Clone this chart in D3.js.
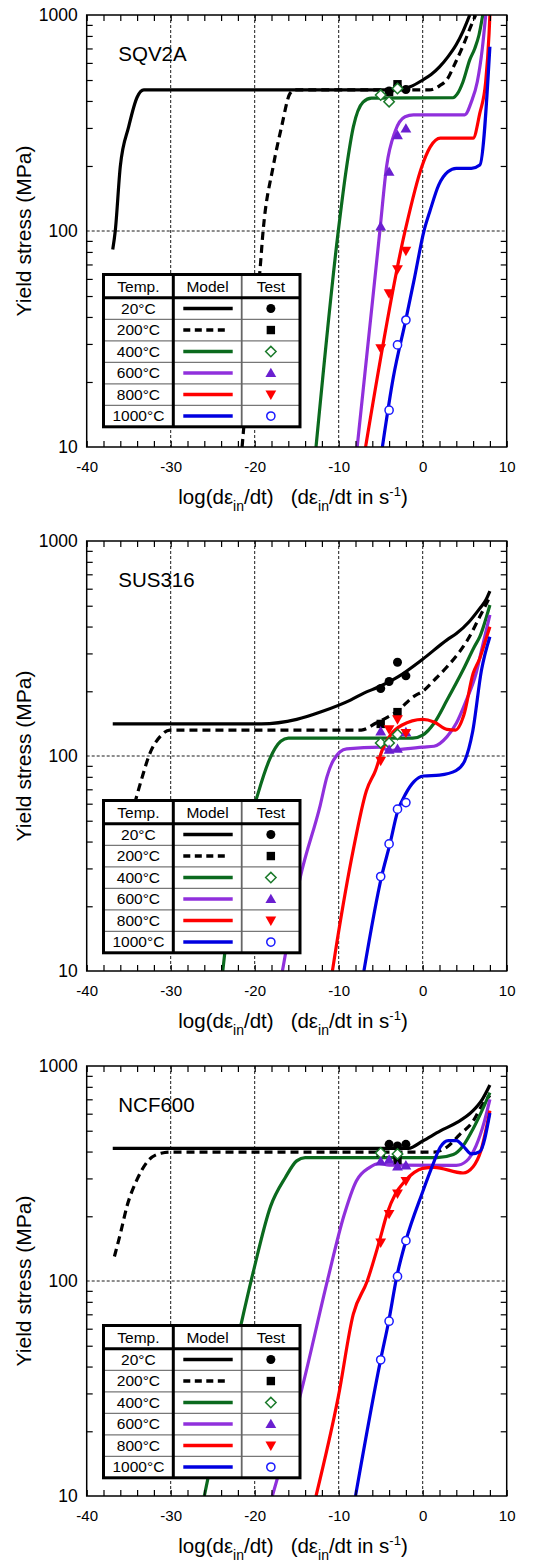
<!DOCTYPE html>
<html><head><meta charset="utf-8">
<script src="https://cdn.jsdelivr.net/npm/d3@7"></script>
<style>
body{margin:0;background:#fff;}
svg{display:block;font-family:"Liberation Sans",Arial,Helvetica,sans-serif;}
</style></head>
<body><svg id="c" width="538" height="1562"></svg>
<script>
// ---------- data ----------
const panelNames = ["SQV2A", "SUS316", "NCF600"];
const temps = ["20°C", "200°C", "400°C", "600°C", "800°C", "1000°C"];
const xTicks = [-40, -30, -20, -10, 0, 10];
const yTicks = [10, 100, 1000];

// model curves [log strain rate, stress MPa] per temperature
const SQV2A_model = [
  [[-36.9,82],[-36.6,100],[-36.0,199],[-35.0,304],[-34.0,416],[-33.2,450],[-3,450],[-1.5,465],[0,500],[1,530],[2,575],[3,640],[4,730],[4.8,840],[5.6,1000]],
  [[-21.5,10],[-20.4,30],[-19.4,64],[-19.0,100],[-17.8,199],[-16.8,304],[-15.8,433],[-15.2,450],[0.8,450],[2.0,470],[3.0,510],[3.7,580],[4.8,720],[5.8,900],[6.3,1000]],
  [[-12.7,10],[-10.05,100],[-9.05,199],[-8.25,304],[-7.1,395],[-6.1,412],[3.6,414],[4.1,430],[4.8,491],[5.6,620],[6.2,700],[6.7,808],[7.15,1000]],
  [[-7.8,10],[-5.1,100],[-4.3,199],[-3.3,288],[-2.1,338],[-1.1,345],[5.0,345],[5.8,397],[6.5,491],[7.1,701],[7.5,1000]],
  [[-6.8,10],[-2.1,100],[-0.1,199],[0.9,245],[2.1,269],[6.0,269],[6.8,351],[7.5,491],[7.9,820],[8.0,1000]],
  [[-4.8,10],[-3.5,21],[-2.0,39],[-1.0,60],[0.15,100],[0.9,125],[1.9,163],[3.0,188],[4.0,195],[5.8,195],[6.8,202],[8.0,713]]
];
const SQV2A_test = [
  [[-4,445],[-3,465],[-2,452]],
  [[-4,440],[-3,478]],
  [[-5,426],[-4,397],[-3,457]],
  [[-5,105],[-4,188],[-3,278],[-2,298]],
  [[-5,28.6],[-4,51.5],[-3,66.5],[-2,81]],
  [[-4,14.8],[-3,29.7],[-2,38.7]]
];
const SUS316_model = [
  [[-36.9,141],[-19.2,141],[-15,148],[-12,161],[-8.6,182],[-7,196],[-5.2,210],[-2.9,234],[0,282],[2.9,347],[4.05,372],[5.5,420],[6.8,486],[7.5,530],[8,585]],
  [[-34.3,60],[-33.3,82],[-32.6,100],[-31.2,124],[-30.1,132],[-7.3,132],[-5.6,142],[-3.1,161],[-1,190],[0,200],[1.35,225],[2.9,260],[4.4,306],[5.4,350],[6.8,445],[8,551]],
  [[-23.8,10],[-23.3,15],[-19.6,67],[-18.2,97],[-16.9,117],[-16,121],[-1.2,121],[0,125],[1.35,142],[2.9,182],[4.8,251],[6.15,322],[6.8,359],[8,504]],
  [[-16.7,10],[-14.6,27],[-12.2,59],[-11.4,80],[-10.6,96],[-9.05,108],[-5,110],[-4,106],[-3,107],[0,110],[1.35,111],[2.9,123],[4.0,142],[5.2,182],[6.35,242],[7.1,322],[8,453]],
  [[-10.75,10],[-10.2,13.7],[-8.25,36.9],[-6.7,69],[-5.6,86],[-4.8,107],[-3.85,125],[-2.5,139],[0,148],[1.35,144],[2.9,133],[3.9,132],[4.9,155],[6.0,242],[6.8,285],[7.5,346],[8,399]],
  [[-7.0,10],[-4.9,27.5],[-3.9,39],[-3,55],[-2,67],[-1.04,76],[0.1,80.7],[2,81.5],[3.96,85.5],[5.0,95],[5.95,130],[7.0,251],[8,359]]
];
const SUS316_test = [
  [[-5,206],[-4,222],[-3,273],[-2,236]],
  [[-5,141],[-3,160]],
  [[-5,115],[-4,115],[-3,126]],
  [[-5,130],[-4,107],[-3,108],[-2,129]],
  [[-5,95],[-4,133],[-3,148],[-2,128]],
  [[-5,27.5],[-4,39],[-3,56.6],[-2,60.7]]
];
const NCF600_model = [
  [[-36.9,414],[-1.7,414],[0,448],[2.1,499],[4.04,545],[5.96,618],[7.1,700],[8.0,816]],
  [[-36.7,130],[-35.96,168],[-35.2,223],[-34,297],[-32.7,362],[-31.15,393],[-30,398],[1.35,398],[2.9,420],[4.4,480],[5.96,551],[7.1,660],[8.0,730]],
  [[-26,10],[-21.6,63.5],[-20.2,109],[-18.1,223],[-16.35,303],[-15,362],[-14,375],[1.7,375],[3.65,388],[4.8,425],[5.96,507],[7.3,651],[8.0,752]],
  [[-17.9,10],[-14.4,31.3],[-11.3,102],[-9.4,200],[-7.9,292],[-6.35,337],[-5.2,352],[-4,346],[4.0,345],[5.2,361],[6.35,425],[7.3,545],[8.0,700]],
  [[-12.7,10],[-10.05,28.9],[-8.27,70],[-6.6,100],[-5.2,151],[-4.2,208],[-3.27,253],[-2.1,292],[-1,320],[0,334],[1.35,338],[4.8,318],[6.0,340],[6.9,400],[8.0,620]],
  [[-8,10],[-5,43.2],[-4.04,65.2],[-3.08,105],[-2,154],[0,260],[1.15,343],[2.1,420],[3.05,450],[4.04,450],[4.8,425],[5.8,390],[6.8,400],[8.0,605]]
];
const NCF600_test = [
  [[-4,432],[-3,425],[-2,432]],
  [[-5,395],[-3,365]],
  [[-5,394],[-3,390]],
  [[-5,360],[-4,367],[-3,341],[-2,345]],
  [[-5,151],[-4,205],[-3,255],[-2,292]],
  [[-5,43],[-4,65],[-3,105],[-2,154]]
];

// ---------- styling ----------
const lineColors = ["#000000", "#000000", "#0b6a1e", "#9030dc", "#ff0000", "#0000e0"];
const markColors = ["#000000", "#000000", "#1a7a2a", "#6a1fd0", "#ff0000", "#1a1aff"];
const dashes = [null, "8,5", null, null, null, null];
const models = [SQV2A_model, SUS316_model, NCF600_model];
const tests = [SQV2A_test, SUS316_test, NCF600_test];
const panelY = [[15, 447], [541, 971], [1066, 1496]];
const X0 = 86.7, X1 = 506.7;
const FONT = '"Liberation Sans",Arial,Helvetica,sans-serif';

const svg = d3.select("#c");

function markerPath(i, cx, cy) {
  const p = d3.path();
  if (i === 0 || i === 5) { // circle
    const r = i === 0 ? 4.5 : 4.1;
    p.moveTo(cx + r, cy); p.arc(cx, cy, r, 0, Math.PI * 2);
  } else if (i === 1) { // square
    const s = 4.2;
    p.rect(cx - s, cy - s, 2 * s, 2 * s);
  } else if (i === 2) { // diamond
    const s = 5.2;
    p.moveTo(cx, cy - s); p.lineTo(cx + s, cy); p.lineTo(cx, cy + s); p.lineTo(cx - s, cy); p.closePath();
  } else if (i === 3) { // up triangle
    const s = 5.4;
    p.moveTo(cx, cy - s); p.lineTo(cx + s, cy + s * 0.75); p.lineTo(cx - s, cy + s * 0.75); p.closePath();
  } else { // down triangle
    const s = 5.4;
    p.moveTo(cx, cy + s); p.lineTo(cx + s, cy - s * 0.75); p.lineTo(cx - s, cy - s * 0.75); p.closePath();
  }
  return p.toString();
}
function styleMarker(sel, i) {
  if (i === 2 || i === 5) {
    sel.attr("fill", "#fff").attr("stroke", markColors[i]).attr("stroke-width", 1.5);
  } else {
    sel.attr("fill", markColors[i]).attr("stroke", "none");
  }
}

panelNames.forEach((name, pi) => {
  const [top, bot] = panelY[pi];
  const x = d3.scaleLinear().domain([-40, 10]).range([X0, X1]);
  const y = d3.scaleLog().domain([10, 1000]).range([bot, top]);
  const g = svg.append("g");

  const clipId = "clip" + pi;
  g.append("clipPath").attr("id", clipId).append("rect")
    .attr("x", X0).attr("y", top).attr("width", X1 - X0).attr("height", bot - top);

  // grid
  [-30, -20, -10, 0].forEach(v => {
    g.append("line").attr("x1", x(v)).attr("x2", x(v)).attr("y1", top).attr("y2", bot)
      .attr("stroke", "#000").attr("stroke-width", 0.9).attr("stroke-dasharray", "3,2");
  });
  g.append("line").attr("x1", X0).attr("x2", X1).attr("y1", y(100)).attr("y2", y(100))
    .attr("stroke", "#000").attr("stroke-width", 0.9).attr("stroke-dasharray", "3,2");

  // model lines
  const line = d3.line().x(d => x(d[0])).y(d => y(d[1])).curve(d3.curveMonotoneX);
  const lg = g.append("g").attr("clip-path", `url(#${clipId})`);
  models[pi].forEach((ser, i) => {
    lg.append("path").attr("d", line(ser)).attr("fill", "none")
      .attr("stroke", lineColors[i]).attr("stroke-width", 3.2)
      .attr("stroke-linejoin", "round")
      .attr("stroke-dasharray", dashes[i]);
  });
  // test markers
  tests[pi].forEach((ser, i) => {
    ser.forEach(d => {
      const m = g.append("path").attr("d", markerPath(i, x(d[0]), y(d[1])));
      styleMarker(m, i);
    });
  });

  // frame
  g.append("rect").attr("x", X0).attr("y", top).attr("width", X1 - X0).attr("height", bot - top)
    .attr("fill", "none").attr("stroke", "#000").attr("stroke-width", 1.5);

  // ticks (inward)
  const xMinor = d3.range(-40, 10.01, 2);
  const yMinor = [];
  [10, 100].forEach(dec => { for (let k = 2; k <= 9; k++) yMinor.push(k * dec); });
  const tickStyle = s => { s.select(".domain").remove(); s.selectAll("line").attr("stroke", "#000").attr("stroke-width", 1.2); };
  g.append("g").attr("transform", `translate(0,${bot})`)
    .call(d3.axisBottom(x).tickValues(xMinor).tickSize(-6).tickFormat("")).call(tickStyle);
  g.append("g").attr("transform", `translate(0,${top})`)
    .call(d3.axisTop(x).tickValues(xMinor).tickSize(-6).tickFormat("")).call(tickStyle);
  g.append("g").attr("transform", `translate(${X0},0)`)
    .call(d3.axisLeft(y).tickValues(yMinor).tickSize(-6).tickFormat("")).call(tickStyle);
  g.append("g").attr("transform", `translate(${X1},0)`)
    .call(d3.axisRight(y).tickValues(yMinor).tickSize(-6).tickFormat("")).call(tickStyle);

  // tick labels
  const xl = g.append("g").attr("transform", `translate(0,${bot})`)
    .call(d3.axisBottom(x).tickValues(xTicks).tickSize(0).tickPadding(14.5).tickFormat(d => String(d)));
  xl.select(".domain").remove();
  xl.selectAll("text").attr("font-size", 15).attr("font-family", FONT).attr("fill", "#000");
  const yl = g.append("g").attr("transform", `translate(${X0},0)`)
    .call(d3.axisLeft(y).tickValues(yTicks).tickSize(0).tickPadding(9).tickFormat(d => String(d)));
  yl.select(".domain").remove();
  yl.selectAll("text").attr("font-size", 17.5).attr("font-family", FONT).attr("fill", "#000");

  // panel label
  g.append("text").attr("x", 118.3).attr("y", top + 45.7).attr("font-size", 20.5).text(name);

  // y title
  g.append("text").attr("transform", `translate(31,${(top + bot) / 2}) rotate(-90)`)
    .attr("text-anchor", "middle").attr("font-size", 21).text("Yield stress (MPa)");

  // x title
  const xt = g.append("text").attr("x", 293).attr("y", bot + 56.5).attr("text-anchor", "middle")
    .attr("font-size", 20.5).style("white-space", "pre");
  xt.append("tspan").text("log(dε");
  xt.append("tspan").attr("font-size", 14).attr("dy", 7).text("in");
  xt.append("tspan").attr("dy", -7).text("/dt)   (dε");
  xt.append("tspan").attr("font-size", 14).attr("dy", 7).text("in");
  xt.append("tspan").attr("dy", -7).text("/dt in s");
  xt.append("tspan").attr("font-size", 13).attr("dy", -8).text("-1");
  xt.append("tspan").attr("dy", 8).text(")");

  // legend table
  const L = 103.5, C1 = 173.3, C2 = 241.7, R = 300;
  const T = top + 259.5, H = 23.3, RH = 21.5;
  const B = T + H + RH * temps.length;
  const leg = g.append("g");
  leg.append("rect").attr("x", L).attr("y", T).attr("width", R - L).attr("height", B - T).attr("fill", "#fff");
  for (let r = 1; r < temps.length; r++) {
    const yy = T + H + RH * r;
    leg.append("line").attr("x1", L).attr("x2", R).attr("y1", yy).attr("y2", yy)
      .attr("stroke", "#777").attr("stroke-width", 1.3);
  }
  leg.append("line").attr("x1", C2).attr("x2", C2).attr("y1", T).attr("y2", B).attr("stroke", "#666").attr("stroke-width", 1.8);
  leg.append("line").attr("x1", C1).attr("x2", C1).attr("y1", T).attr("y2", B).attr("stroke", "#000").attr("stroke-width", 3);
  leg.append("line").attr("x1", L).attr("x2", R).attr("y1", T + H).attr("y2", T + H).attr("stroke", "#000").attr("stroke-width", 3);
  leg.append("rect").attr("x", L).attr("y", T).attr("width", R - L).attr("height", B - T)
    .attr("fill", "none").attr("stroke", "#000").attr("stroke-width", 3);
  const hdr = [["Temp.", (L + C1) / 2], ["Model", (C1 + C2) / 2], ["Test", (C2 + R) / 2]];
  hdr.forEach(([t, cx]) => leg.append("text").attr("x", cx).attr("y", T + H / 2 + 5.4)
    .attr("text-anchor", "middle").attr("font-size", 15.5).text(t));
  temps.forEach((t, i) => {
    const cy = T + H + RH * i + RH / 2;
    leg.append("text").attr("x", (L + C1) / 2).attr("y", cy + 5.4).attr("text-anchor", "middle")
      .attr("font-size", 15.5).text(t);
    leg.append("line").attr("x1", 183.3).attr("x2", i === 1 ? 226 : 232.7).attr("y1", cy).attr("y2", cy)
      .attr("stroke", lineColors[i]).attr("stroke-width", 3.5).attr("stroke-dasharray", i === 1 ? "7,4.5" : null);
    const m = leg.append("path").attr("d", markerPath(i, (C2 + R) / 2, cy));
    styleMarker(m, i);
  });
});
</script></body></html>
